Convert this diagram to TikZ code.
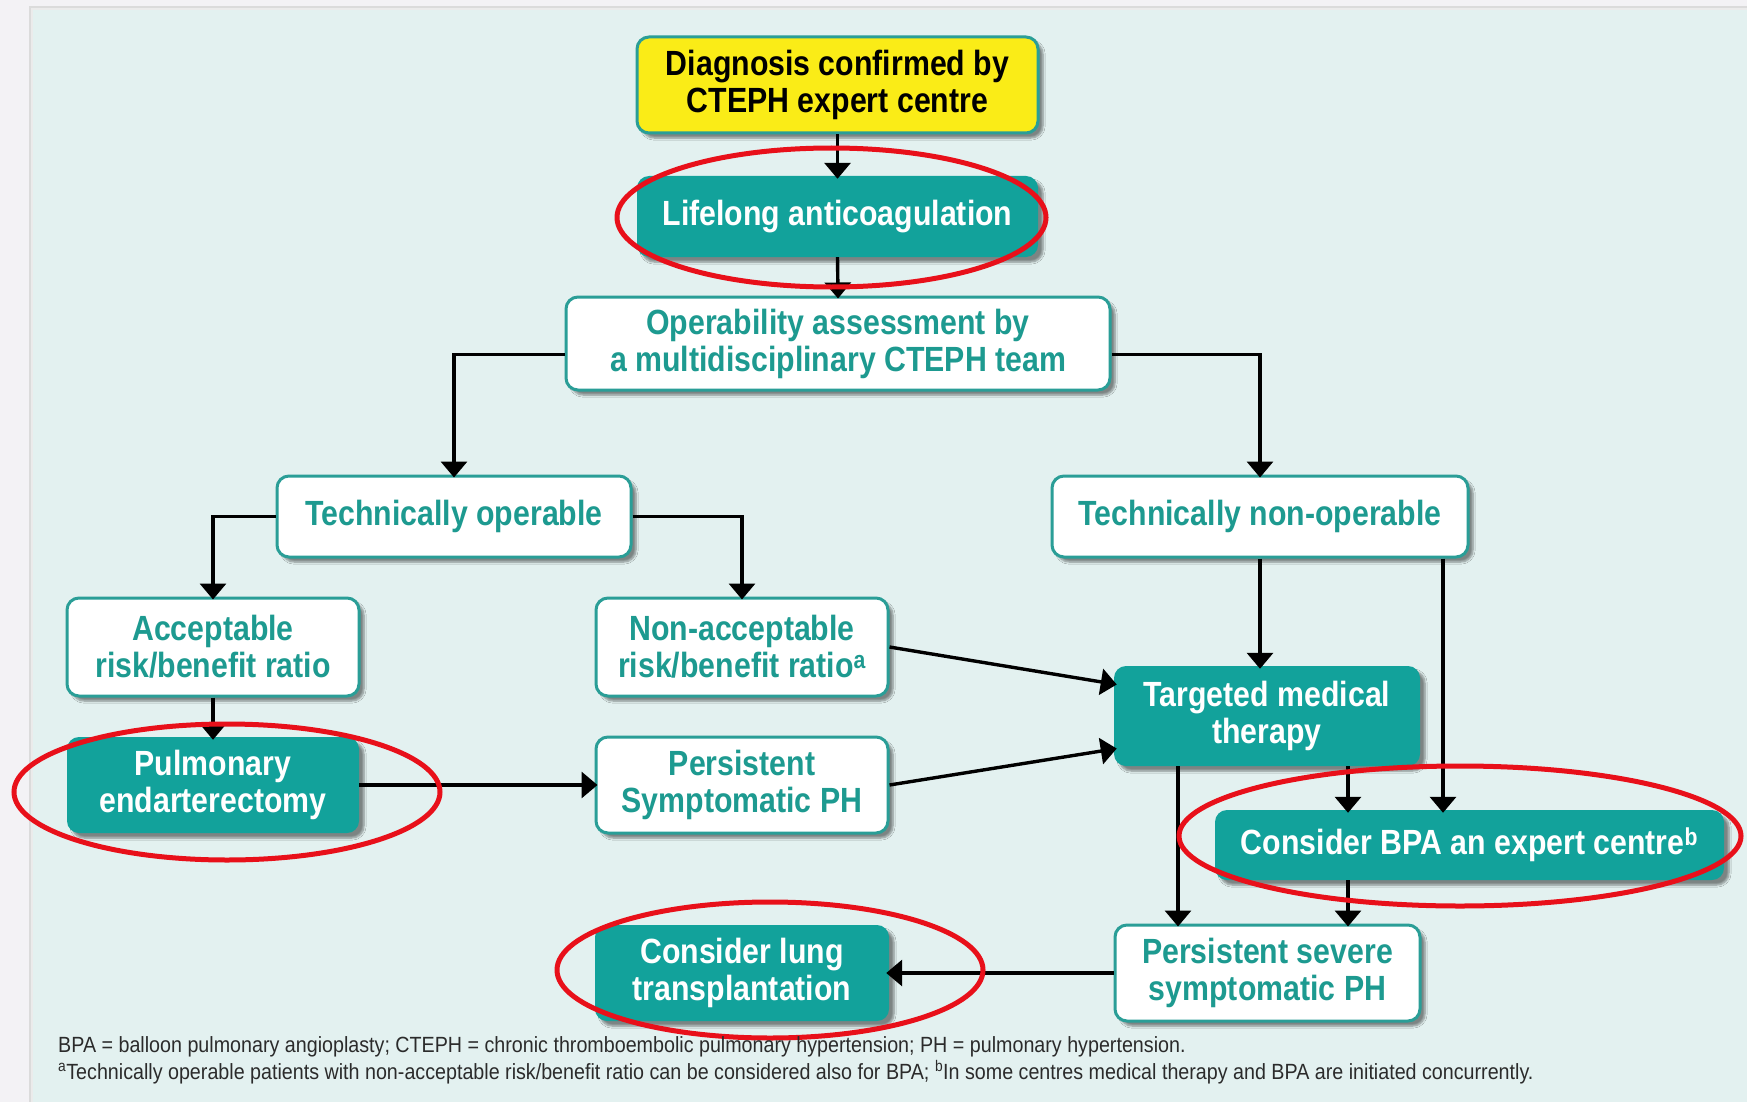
\documentclass[tikz,border=0pt]{standalone}
\usepackage{fontspec}
\setmainfont{Liberation Sans}[FakeStretch=0.865]
\newfontfamily\notefont{Liberation Sans}[FakeStretch=0.895]
\usetikzlibrary{arrows.meta,shadows.blur}

\definecolor{outerbg}{HTML}{F3F2F5}
\definecolor{panelbg}{HTML}{E3F1F0}
\definecolor{boxteal}{HTML}{12A29B}
\definecolor{tealtext}{HTML}{1D9A90}
\definecolor{tealline}{HTML}{2A9E97}
\definecolor{diagyellow}{HTML}{FAEC17}
\definecolor{markred}{HTML}{E8101A}
\definecolor{notegray}{HTML}{2B2B2B}

\tikzset{
  box/.style={rounded corners=12pt, align=center, inner sep=0pt,
    font=\bfseries\fontsize{35}{37}\selectfont,
    blur shadow={shadow xshift=5pt, shadow yshift=-5pt,
      shadow blur steps=6, shadow opacity=45}},
  whitebox/.style={box, draw=tealline, line width=3pt, fill=white, text=tealtext},
  tealbox/.style={box, fill=boxteal, text=white},
  yellowbox/.style={box, draw=tealline, line width=3pt, fill=diagyellow, text=black},
  arr/.style={line width=3.4pt, -{Triangle[length=16pt,width=26pt]}, shorten >=-3pt},
  ringmark/.style={draw=markred, line width=5pt},
  note/.style={anchor=base west, inner sep=0pt, text=notegray,
    font=\notefont\fontsize{22}{24}\selectfont}
}

\begin{document}
\begin{tikzpicture}[x=1pt,y=-1pt]
  \useasboundingbox (0,0) rectangle (1747,1102);
  % page and panel
  \fill[outerbg] (0,0) rectangle (1747,1102);
  \fill[black!14] (29,6) rectangle (1747,1102);
  \fill[black!8] (31,8) rectangle (1747,1102);
  \fill[panelbg] (33,10) rectangle (1747,1102);

  % boxes
  \node[yellowbox, minimum width=401pt, minimum height=96pt] (diag) at (837.5,85)
    {Diagnosis confirmed by\\CTEPH expert centre};
  \node[tealbox, minimum width=401pt, minimum height=81pt] (life) at (837.5,216.5)
    {Lifelong anticoagulation};
  \node[whitebox, minimum width=544pt, minimum height=93pt] (oper) at (838,343.5)
    {Operability assessment by\\a multidisciplinary CTEPH team};
  \node[whitebox, minimum width=354pt, minimum height=81pt] (top) at (454,516.5)
    {Technically operable};
  \node[whitebox, minimum width=416pt, minimum height=81pt] (tnon) at (1260,516.5)
    {Technically non-operable};
  \node[whitebox, minimum width=292pt, minimum height=98pt] (acc) at (213,647)
    {Acceptable\\risk/benefit ratio};
  \node[whitebox, minimum width=292pt, minimum height=98pt] (nacc) at (742,647)
    {Non-acceptable\\risk/benefit ratio\textsuperscript{a}};
  \node[tealbox, minimum width=292pt, minimum height=96pt] (pea) at (213,785)
    {Pulmonary\\endarterectomy};
  \node[whitebox, minimum width=292pt, minimum height=96pt] (psph) at (742,785)
    {Persistent\\Symptomatic PH};
  \node[tealbox, minimum width=306pt, minimum height=100pt] (tmt) at (1267,716)
    {Targeted medical\\therapy};
  \node[tealbox, minimum width=509pt, minimum height=70pt] (bpa) at (1469.5,845)
    {Consider BPA an expert centre\textsuperscript{b}};
  \node[whitebox, minimum width=305pt, minimum height=96pt] (pssph) at (1267.5,973)
    {Persistent severe\\symptomatic PH};
  \node[tealbox, minimum width=294pt, minimum height=96pt] (lung) at (742,973)
    {Consider lung\\transplantation};

  % connectors
  \draw[arr] (diag.south) -- (life.north);
  \draw[arr] (life.south) -- (oper.north);
  \draw[arr] ([yshift=-11pt]oper.west) -| (top.north);
  \draw[arr] ([yshift=-11pt]oper.east) -| (tnon.north);
  \draw[arr] (top.west) -| (acc.north);
  \draw[arr] (top.east) -| (nacc.north);
  \draw[arr] (acc.south) -- (pea.north);
  \draw[arr] (pea.east) -- (psph.west);
  \draw[arr] (nacc.east) -- ([yshift=32pt]tmt.west);
  \draw[arr] (psph.east) -- ([yshift=-33pt]tmt.west);
  \draw[arr] (tnon.south) -- (tnon.south |- tmt.north);
  \draw[arr] ([xshift=183pt]tnon.south) -- ([xshift=183pt]tnon.south |- bpa.north);
  \draw[arr] ([xshift=81pt]tmt.south) -- ([xshift=81pt]tmt.south |- bpa.north);
  \draw[arr] ([xshift=-89pt]tmt.south) -- ([xshift=-89pt]tmt.south |- pssph.north);
  \draw[arr] ([xshift=81pt]tmt.south |- bpa.south) -- ([xshift=81pt]tmt.south |- pssph.north);
  \draw[arr] (pssph.west) -- (lung.east);

  % highlight rings
  \draw[ringmark] (831.5,217.5) ellipse [x radius=214.5pt, y radius=69.5pt];
  \draw[ringmark] (227,792) ellipse [x radius=213pt, y radius=68pt];
  \draw[ringmark] (1460,836) ellipse [x radius=281pt, y radius=70pt];
  \draw[ringmark] (770,970) ellipse [x radius=213pt, y radius=68pt];

  % footnotes
  \node[note] (fn1) at (58,1052)
    {BPA = balloon pulmonary angioplasty; CTEPH = chronic thromboembolic pulmonary hypertension; PH = pulmonary hypertension.};
  \node[note] (fn2) at (58,1079)
    {\textsuperscript{a}Technically operable patients with non-acceptable risk/benefit ratio can be considered also for BPA; \textsuperscript{b}In some centres medical therapy and BPA are initiated concurrently.};
\end{tikzpicture}
\end{document}
